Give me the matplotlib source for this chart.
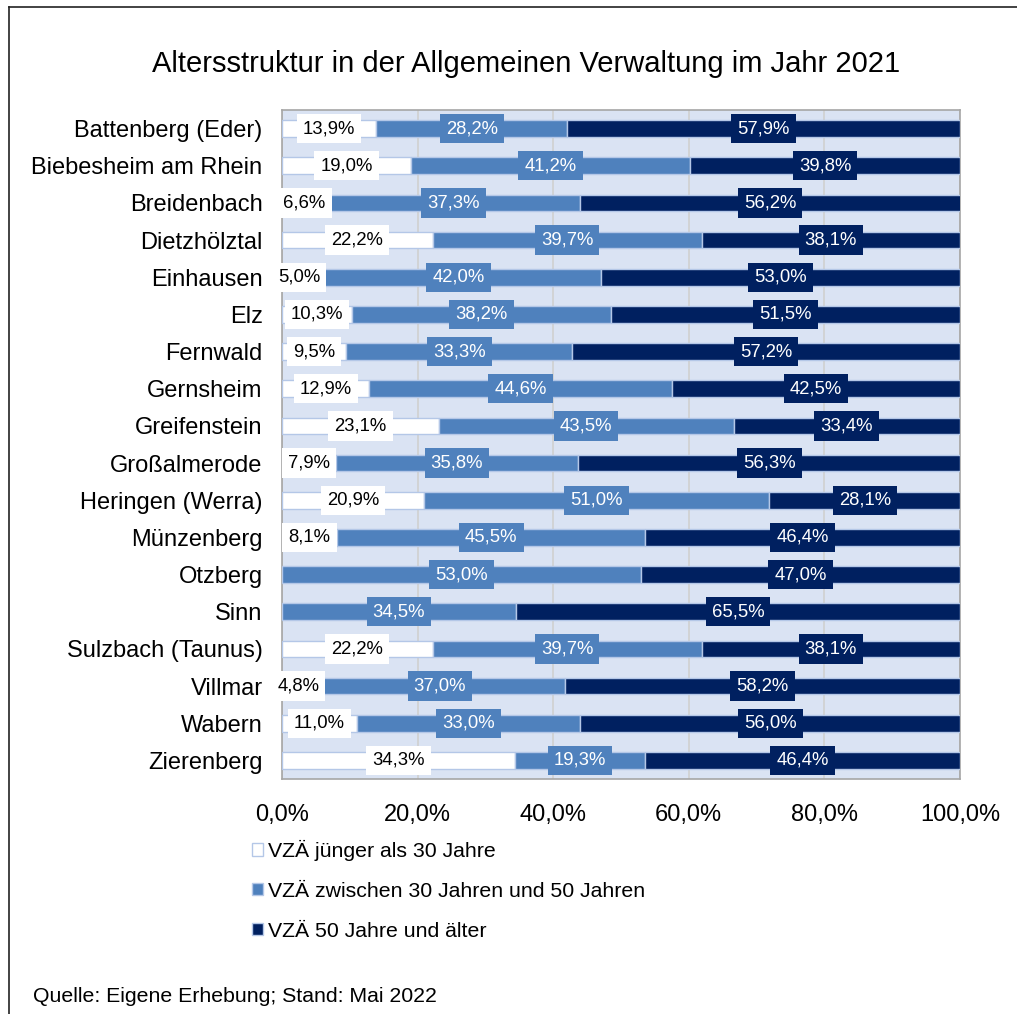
import matplotlib.pyplot as plt
from matplotlib.patches import Patch
from matplotlib.lines import Line2D
import numpy as np

plt.rcParams['font.family'] = ['Liberation Sans', 'DejaVu Sans']

# Data
gemeinden = ['Battenberg (Eder)', 'Biebesheim am Rhein', 'Breidenbach', 'Dietzhölztal',
             'Einhausen', 'Elz', 'Fernwald', 'Gernsheim', 'Greifenstein', 'Großalmerode',
             'Heringen (Werra)', 'Münzenberg', 'Otzberg', 'Sinn', 'Sulzbach (Taunus)',
             'Villmar', 'Wabern', 'Zierenberg']
jung = [13.9, 19.0, 6.6, 22.2, 5.0, 10.3, 9.5, 12.9, 23.1, 7.9, 20.9, 8.1, 0.0, 0.0, 22.2, 4.8, 11.0, 34.3]
mittel = [28.2, 41.2, 37.3, 39.7, 42.0, 38.2, 33.3, 44.6, 43.5, 35.8, 51.0, 45.5, 53.0, 34.5, 39.7, 37.0, 33.0, 19.3]
alt = [57.9, 39.8, 56.2, 38.1, 53.0, 51.5, 57.2, 42.5, 33.4, 56.3, 28.1, 46.4, 47.0, 65.5, 38.1, 58.2, 56.0, 46.4]
serien = ['VZÄ jünger als 30 Jahre', 'VZÄ zwischen 30 Jahren und 50 Jahren', 'VZÄ 50 Jahre und älter']
xticks = [0, 20, 40, 60, 80, 100]

farben = ['#ffffff', '#4f81bd', '#002060']
textfarben = ['black', 'white', 'white']
kante = '#b4c7e7'

W, H = 1017, 1014
fig = plt.figure(figsize=(W / 100, H / 100), dpi=100)
ax = fig.add_axes([282 / W, 1 - 779 / H, (960 - 282) / W, (779 - 110) / H])
ax.set_facecolor('#dae3f3')

y = np.arange(len(gemeinden))
links = np.zeros(len(gemeinden))
for werte, farbe, tf in zip([jung, mittel, alt], farben, textfarben):
    werte = np.array(werte)
    ax.barh(y, werte, left=links, height=0.45, color=farbe, edgecolor=kante,
            linewidth=1, zorder=3)
    for yi, l, v in zip(y, links, werte):
        if v > 0:
            ax.text(l + v / 2, yi, f'{v:.1f}%'.replace('.', ','), ha='center', va='center',
                    fontsize=13.3, color=tf, zorder=5, clip_on=False,
                    bbox=dict(boxstyle='square,pad=0.33', facecolor=farbe, edgecolor='none'))
    links = links + werte

ax.set_xlim(0, 100)
ax.set_ylim(len(gemeinden) - 0.5, -0.5)
ax.set_yticks(y)
ax.set_yticklabels(gemeinden, fontsize=17)
ax.set_xticks(xticks)
ax.set_xticklabels([f'{t:.1f}%'.replace('.', ',') for t in xticks], fontsize=17)
ax.tick_params(axis='both', length=0)
ax.tick_params(axis='y', pad=14)
ax.tick_params(axis='x', pad=18)
ax.grid(axis='x', color='#d0d0d0', linewidth=1.2, zorder=0)
ax.set_axisbelow(True)
for s in ax.spines.values():
    s.set_color('#a6a6a6')
    s.set_linewidth(1.2)

fig.text(526 / W, 1 - 64 / H, 'Altersstruktur in der Allgemeinen Verwaltung im Jahr 2021',
         ha='center', va='center', fontsize=21)

handles = [Patch(facecolor=f, edgecolor=kante, linewidth=1) for f in farben]
fig.legend(handles, serien, loc='upper left', bbox_to_anchor=(252 / W, 1 - 840 / H),
           frameon=False, borderpad=0, borderaxespad=0, handlelength=0.5, handleheight=0.5,
           handletextpad=0.25, labelspacing=0.98, fontsize=15.3)

fig.text(33 / W, 1 - 997 / H, 'Quelle: Eigene Erhebung; Stand: Mai 2022',
         ha='left', va='center', fontsize=15.3)

# Rahmen oben und links
fig.add_artist(Line2D([9 / W, 1], [1 - 7 / H, 1 - 7 / H], color='#222222', linewidth=1.2))
fig.add_artist(Line2D([9 / W, 9 / W], [0, 1 - 7 / H], color='#222222', linewidth=1.2))

fig.savefig('out.png', dpi=100)
